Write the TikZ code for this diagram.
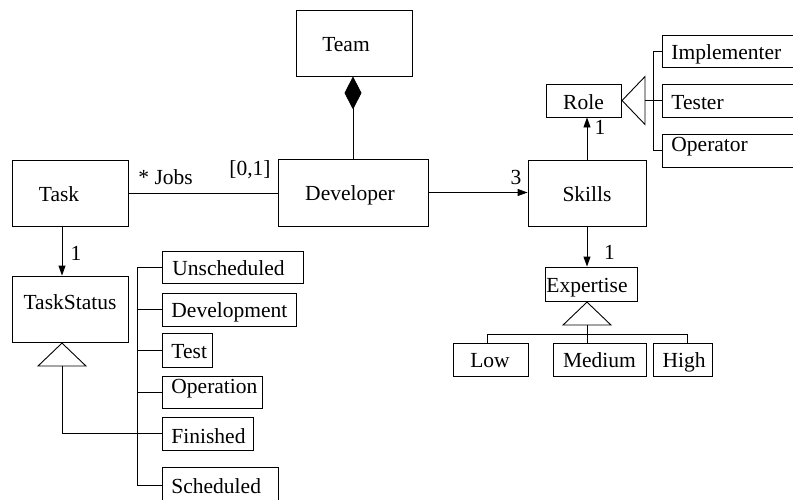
\documentclass[tikz,border=0pt]{standalone}
\usepackage{fontspec}
\setmainfont{Liberation Serif}
\usetikzlibrary{arrows.meta}
\begin{document}
\begin{tikzpicture}[x=1pt,y=-1pt,
  font=\fontsize{21.5}{25}\selectfont,
  line width=0.9pt,
  box/.style={draw, inner sep=0pt},
  ctext/.style={inner sep=0pt, anchor=base},
  ltext/.style={inner sep=0pt, anchor=base west},
  nav/.style={-{Triangle[length=10pt,width=7pt]}},
  gen/.style={-{Triangle[open,length=24pt,width=50pt]}},
  comp/.style={-{Diamond[length=33pt,width=17pt]}}]
\useasboundingbox (0,0) rectangle (793,499);
\clip (0,0) rectangle (793,499);

% ---- classes ----
\node[box, minimum width=116, minimum height=66] (team) at (354,43) {};
\node[ctext] (teamtxt) at (346,51) {Team};
\node[box, minimum width=116, minimum height=66] (task) at (70,193) {};
\node[ctext] (tasktxt) at (59,201) {Task};
\node[box, minimum width=150, minimum height=67] (dev) at (353,192.5) {};
\node[ctext] (devtxt) at (350,200) {Developer};
\node[box, minimum width=118, minimum height=66] (skills) at (587,193) {};
\node[ctext] (skillstxt) at (587,201) {Skills};
\node[box, minimum width=116, minimum height=66] (tstatus) at (70,309) {};
\node[ctext] (tstatustxt) at (70,309) {TaskStatus};
\node[box, minimum width=75, minimum height=33] (role) at (583.5,100.5) {};
\node[ctext] (roletxt) at (583.5,109) {Role};
\node[box, minimum width=92, minimum height=34] (expert) at (591,284) {};
\node[ctext] (experttxt) at (587,292) {Expertise};

% ---- role kinds ----
\node[box, minimum width=150, minimum height=32] (impl) at (737,51) {};
\node[ltext] (impltxt) at (671,59) {Implementer};
\node[box, minimum width=150, minimum height=33] (tester) at (737,100.5) {};
\node[ltext] (testertxt) at (671,109) {Tester};
\node[box, minimum width=150, minimum height=33] (oper) at (737,150.5) {};
\node[ltext] (opertxt) at (671,151) {Operator};

% ---- expertise levels ----
\node[box, minimum width=75, minimum height=33] (low) at (490.5,359.5) {};
\node[ctext] (lowtxt) at (490,367) {Low};
\node[box, minimum width=93, minimum height=33] (medium) at (599.5,359.5) {};
\node[ctext] (mediumtxt) at (599.5,367) {Medium};
\node[box, minimum width=59, minimum height=33] (high) at (682.5,359.5) {};
\node[ctext] (hightxt) at (684,367) {High};

% ---- task states ----
\node[box, minimum width=141, minimum height=32] (unsched) at (232.5,267) {};
\node[ltext] (unschedtxt) at (172,275) {Unscheduled};
\node[box, minimum width=134, minimum height=33] (devel) at (229,309.5) {};
\node[ltext] (develtxt) at (171,317) {Development};
\node[box, minimum width=50, minimum height=34] (test) at (187,350) {};
\node[ltext] (testtxt) at (171,358) {Test};
\node[box, minimum width=100, minimum height=32] (operation) at (212,392) {};
\node[ltext] (operationtxt) at (171,393) {Operation};
\node[box, minimum width=91, minimum height=33] (finished) at (207.5,433.5) {};
\node[ltext] (finishedtxt) at (171,443) {Finished};
\node[box, minimum width=116, minimum height=36] (sched) at (220,485) {};
\node[ltext] (schedtxt) at (171,493) {Scheduled};

% ---- alignment columns ----
\coordinate (tcol) at (62,0);
\coordinate (dcol) at (353,0);
\coordinate (scol) at (587,0);
\coordinate (sbus) at (137,0);
\coordinate (rbus) at (653,0);
\coordinate (lcol) at (487,0);
\coordinate (hcol) at (687,0);
\coordinate (erail) at (0,334);

% ---- associations ----
\draw (task.east) -- (task.east -| dev.west);
\node[ltext] (jobs) at (138,184) {* Jobs};
\node[ctext] (mult01) at (250,175) {[0,1]};
\draw[comp] (dev.north -| dcol) -- (team.south -| dcol);
\draw[nav] (dev.east) -- (dev.east -| skills.west);
\node[ctext] (mult3) at (516,184) {3};
\draw[nav] (task.south -| tcol) -- (tstatus.north -| tcol);
\node[ctext] (multts) at (76,260) {1};
\draw[nav] (skills.north -| scol) -- (role.south -| scol);
\node[ctext] (multrole) at (600,134) {1};
\draw[nav] (skills.south -| scol) -- (expert.north -| scol);
\node[ctext] (multexp) at (609.5,259) {1};

% ---- generalisations ----
\draw[gen] (finished.west) -| (tstatus.south -| tcol);
\draw (unsched.west) -- (unsched.west -| sbus) -- (sched.west -| sbus) -- (sched.west);
\foreach \n in {devel,test,operation}
  \draw (\n.west) -- (\n.west -| sbus);

\draw[gen] (tester.west -| rbus) -- (role.east);
\draw (tester.west) -- (tester.west -| rbus);
\draw (impl.west) -- (impl.west -| rbus) -- (oper.west -| rbus) -- (oper.west);

\draw[gen] (medium.north -| scol) -- (expert.south -| scol);
\draw (low.north -| lcol) -- (erail -| lcol) -- (erail -| hcol) -- (high.north -| hcol);
\end{tikzpicture}
\end{document}
